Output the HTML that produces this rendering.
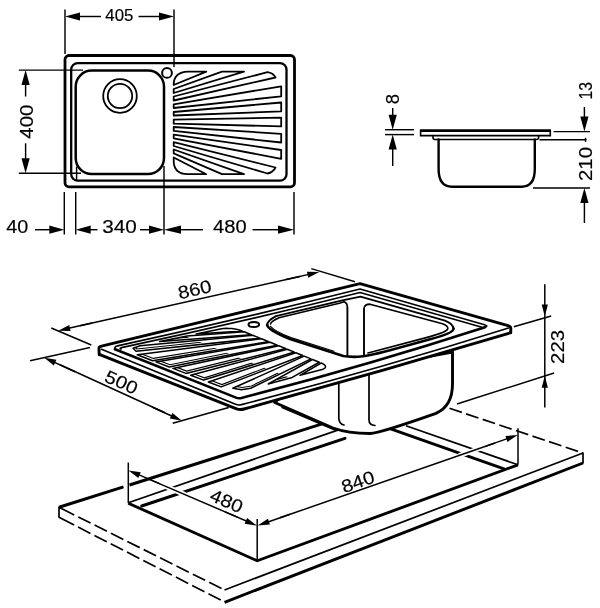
<!DOCTYPE html>
<html><head><meta charset="utf-8"><title>Sink</title>
<style>html,body{margin:0;padding:0;background:#fff}svg{display:block;filter:grayscale(1)}text{font-family:"Liberation Sans",sans-serif;fill:#000;stroke:#000;stroke-width:0.18px}</style>
</head><body>
<svg width="600" height="608" viewBox="0 0 600 608">
<rect width="600" height="608" fill="#fff"/>
<rect x="65" y="55.5" width="229.5" height="131.3" rx="4" fill="none" stroke="#000" stroke-width="2.8"/>
<rect x="71.2" y="63.1" width="215.3" height="117.6" rx="6.5" fill="none" stroke="#000" stroke-width="2.3"/>
<rect x="75.7" y="70.6" width="88.3" height="103.4" rx="16" fill="none" stroke="#000" stroke-width="2.5"/>
<circle cx="120" cy="96" r="16.8" fill="none" stroke="#000" stroke-width="1.8"/>
<circle cx="120" cy="96" r="12.2" fill="none" stroke="#000" stroke-width="1.8"/>
<circle cx="167" cy="72.9" r="4.9" fill="#fff" stroke="#000" stroke-width="2"/>
<path d="M173.7,85 Q173.7,72 188,71.7 L206.3,71.7 Z" fill="none" stroke="#000" stroke-width="1.8" stroke-linejoin="round" stroke-linecap="round"/>
<path d="M173.7,89 L222,71.7 L244,71.7 L173.7,93 Z" fill="none" stroke="#000" stroke-width="1.8" stroke-linejoin="round" stroke-linecap="round"/>
<path d="M173.7,96.5 L267.5,72.2 Q273,73 275.5,77.5 L173.7,100.5 Z" fill="none" stroke="#000" stroke-width="1.8" stroke-linejoin="round" stroke-linecap="round"/>
<path d="M173.7,104.3 L281.2,86.3 L281.2,96.3 L173.7,108 Z" fill="none" stroke="#000" stroke-width="1.8" stroke-linejoin="round" stroke-linecap="round"/>
<path d="M173.7,112 L281.2,102.5 L281.2,111.3 L173.7,115.5 Z" fill="none" stroke="#000" stroke-width="1.8" stroke-linejoin="round" stroke-linecap="round"/>
<path d="M173.7,119.7 L281.2,117.7 L281.2,126.4 L173.7,123.7 Z" fill="none" stroke="#000" stroke-width="1.8" stroke-linejoin="round" stroke-linecap="round"/>
<path d="M173.7,127 L281.2,133.8 L281.2,142.5 L173.7,130.8 Z" fill="none" stroke="#000" stroke-width="1.8" stroke-linejoin="round" stroke-linecap="round"/>
<path d="M173.7,134.7 L281.2,150 L281.2,158.8 L173.7,138.3 Z" fill="none" stroke="#000" stroke-width="1.8" stroke-linejoin="round" stroke-linecap="round"/>
<path d="M173.7,142.2 L275.5,167.5 Q273,172.5 267.5,173.5 L173.7,146 Z" fill="none" stroke="#000" stroke-width="1.8" stroke-linejoin="round" stroke-linecap="round"/>
<path d="M173.7,149.5 L244,174.2 L222,174.2 L173.7,153.3 Z" fill="none" stroke="#000" stroke-width="1.8" stroke-linejoin="round" stroke-linecap="round"/>
<path d="M173.7,157.5 L206.3,174.2 L188,174.2 Q173.7,174 173.7,161 Z" fill="none" stroke="#000" stroke-width="1.8" stroke-linejoin="round" stroke-linecap="round"/>
<line x1="65" y1="9.5" x2="65" y2="54" stroke="#000" stroke-width="1.45" stroke-linecap="butt"/>
<line x1="174" y1="9.5" x2="174" y2="67" stroke="#000" stroke-width="1.45" stroke-linecap="butt"/>
<line x1="101" y1="16.5" x2="77.0" y2="16.5" stroke="#000" stroke-width="1.45" stroke-linecap="butt"/>
<polygon points="65.00,16.50 80.00,12.40 80.00,20.60" fill="#000"/>
<line x1="138.5" y1="16.5" x2="162.0" y2="16.5" stroke="#000" stroke-width="1.45" stroke-linecap="butt"/>
<polygon points="174.00,16.50 159.00,20.60 159.00,12.40" fill="#000"/>
<text x="0" y="0" transform="translate(119.3,15.8) rotate(0)" opacity="0.999" font-size="17" text-anchor="middle" dominant-baseline="central" textLength="28" lengthAdjust="spacingAndGlyphs">405</text>
<line x1="18.8" y1="70.1" x2="83" y2="70.1" stroke="#000" stroke-width="1.45" stroke-linecap="butt"/>
<line x1="18.8" y1="173.3" x2="81" y2="173.3" stroke="#000" stroke-width="1.45" stroke-linecap="butt"/>
<line x1="25.6" y1="96.5" x2="25.6" y2="82.1" stroke="#000" stroke-width="1.45" stroke-linecap="butt"/>
<polygon points="25.60,70.10 29.70,85.10 21.50,85.10" fill="#000"/>
<line x1="25.6" y1="143.3" x2="25.6" y2="161.3" stroke="#000" stroke-width="1.45" stroke-linecap="butt"/>
<polygon points="25.60,173.30 21.50,158.30 29.70,158.30" fill="#000"/>
<text x="0" y="0" transform="translate(26.2,121.7) rotate(-90)" opacity="0.999" font-size="19" text-anchor="middle" dominant-baseline="central" textLength="34" lengthAdjust="spacingAndGlyphs">400</text>
<line x1="64.3" y1="192" x2="64.3" y2="234.5" stroke="#000" stroke-width="1.45" stroke-linecap="butt"/>
<line x1="75.7" y1="192" x2="75.7" y2="234.5" stroke="#000" stroke-width="1.45" stroke-linecap="butt"/>
<line x1="76.6" y1="166.5" x2="76.6" y2="180.5" stroke="#000" stroke-width="1.45" stroke-linecap="butt"/>
<line x1="164" y1="166" x2="164" y2="234.5" stroke="#000" stroke-width="1.45" stroke-linecap="butt"/>
<line x1="294" y1="192" x2="294" y2="234.5" stroke="#000" stroke-width="1.45" stroke-linecap="butt"/>
<line x1="35" y1="229.7" x2="52.3" y2="229.7" stroke="#000" stroke-width="1.45" stroke-linecap="butt"/>
<polygon points="64.30,229.70 49.30,233.80 49.30,225.60" fill="#000"/>
<line x1="97.5" y1="229.7" x2="87.7" y2="229.7" stroke="#000" stroke-width="1.45" stroke-linecap="butt"/>
<polygon points="75.70,229.70 90.70,225.60 90.70,233.80" fill="#000"/>
<line x1="140" y1="229.7" x2="152.0" y2="229.7" stroke="#000" stroke-width="1.45" stroke-linecap="butt"/>
<polygon points="164.00,229.70 149.00,233.80 149.00,225.60" fill="#000"/>
<line x1="203" y1="229.7" x2="177.6" y2="229.7" stroke="#000" stroke-width="1.45" stroke-linecap="butt"/>
<polygon points="164.00,229.70 181.00,225.60 181.00,233.80" fill="#000"/>
<line x1="252.5" y1="229.7" x2="281.2" y2="229.7" stroke="#000" stroke-width="1.45" stroke-linecap="butt"/>
<polygon points="294.00,229.70 278.00,233.80 278.00,225.60" fill="#000"/>
<text x="0" y="0" transform="translate(17.3,226.8) rotate(0)" opacity="0.999" font-size="17.5" text-anchor="middle" dominant-baseline="central" textLength="22" lengthAdjust="spacingAndGlyphs">40</text>
<text x="0" y="0" transform="translate(119.6,226.8) rotate(0)" opacity="0.999" font-size="17.5" text-anchor="middle" dominant-baseline="central" textLength="34.5" lengthAdjust="spacingAndGlyphs">340</text>
<text x="0" y="0" transform="translate(229.8,226.8) rotate(0)" opacity="0.999" font-size="17.5" text-anchor="middle" dominant-baseline="central" textLength="33.5" lengthAdjust="spacingAndGlyphs">480</text>
<path d="M420.6,130.6 L550.3,130.6" fill="none" stroke="#000" stroke-width="2.6" stroke-linejoin="round" stroke-linecap="butt"/>
<path d="M420.6,129.6 L420.6,135.6 L550.3,135.6 L550.3,129.6" fill="none" stroke="#000" stroke-width="1.6" stroke-linejoin="miter" stroke-linecap="butt"/>
<path d="M433,135.6 L433,137.5 Q433,139.5 435,139.5 L536.5,139.5 Q538.6,139.5 538.6,137.5 L538.6,135.6" fill="none" stroke="#000" stroke-width="1.6" stroke-linejoin="round" stroke-linecap="round"/>
<path d="M438.6,139.5 L438.6,169 Q438.6,186.7 452,186.7 L521.5,186.7 Q534.8,186.7 534.8,169 L534.8,139.5" fill="none" stroke="#000" stroke-width="2.4" stroke-linejoin="round" stroke-linecap="round"/>
<line x1="385" y1="129.7" x2="414" y2="129.7" stroke="#000" stroke-width="1.45" stroke-linecap="butt"/>
<line x1="385" y1="134.6" x2="414" y2="134.6" stroke="#000" stroke-width="1.45" stroke-linecap="butt"/>
<line x1="392.7" y1="108" x2="392.7" y2="117.69999999999999" stroke="#000" stroke-width="1.45" stroke-linecap="butt"/>
<polygon points="392.70,129.70 388.60,114.70 396.80,114.70" fill="#000"/>
<line x1="392.7" y1="166" x2="392.7" y2="146.6" stroke="#000" stroke-width="1.45" stroke-linecap="butt"/>
<polygon points="392.70,134.60 396.80,149.60 388.60,149.60" fill="#000"/>
<text x="0" y="0" transform="translate(392.3,99) rotate(-90)" opacity="0.999" font-size="18.5" text-anchor="middle" dominant-baseline="central">8</text>
<line x1="553.5" y1="131.6" x2="590" y2="131.6" stroke="#000" stroke-width="1.45" stroke-linecap="butt"/>
<line x1="539.5" y1="139.8" x2="586.5" y2="139.8" stroke="#000" stroke-width="1.45" stroke-linecap="butt"/>
<line x1="533" y1="188" x2="590" y2="188" stroke="#000" stroke-width="1.45" stroke-linecap="butt"/>
<line x1="585.5" y1="137.8" x2="585.5" y2="141.8" stroke="#000" stroke-width="1.45" stroke-linecap="butt"/>
<line x1="584.4" y1="107" x2="584.4" y2="119.6" stroke="#000" stroke-width="1.45" stroke-linecap="butt"/>
<polygon points="584.40,131.60 580.30,116.60 588.50,116.60" fill="#000"/>
<line x1="584.4" y1="223" x2="584.4" y2="200.0" stroke="#000" stroke-width="1.45" stroke-linecap="butt"/>
<polygon points="584.40,188.00 588.50,203.00 580.30,203.00" fill="#000"/>
<text x="0" y="0" transform="translate(585.8,90.8) rotate(-90)" opacity="0.999" font-size="18.5" text-anchor="middle" dominant-baseline="central" textLength="17.5" lengthAdjust="spacingAndGlyphs">13</text>
<text x="0" y="0" transform="translate(585.8,164) rotate(-90)" opacity="0.999" font-size="18.5" text-anchor="middle" dominant-baseline="central" textLength="34" lengthAdjust="spacingAndGlyphs">210</text>
<path d="M59,507.3 L123.5,486.9 M129.5,485.0 L330,421.4" fill="none" stroke="#000" stroke-width="3.0" stroke-linejoin="round" stroke-linecap="butt"/>
<path d="M449.5,408.3 L583,453" fill="none" stroke="#000" stroke-width="1.7" stroke-linejoin="round" stroke-linecap="butt" stroke-dasharray="13 4.5"/>
<path d="M59,507.3 L224.5,590" fill="none" stroke="#000" stroke-width="1.7" stroke-linejoin="round" stroke-linecap="butt" stroke-dasharray="17 4.5 13.8 4.5 13.8 4.5 13.8 4.5 13.8 4.5 13.8 4.5 13.8 4.5 13.8 4.5 13.8 4.5 13.8 4.5 13.8 4.5 13.8 4.5 13.8 4.5 13.8 4.5 13.8 4.5"/>
<path d="M59,517.3 L224.5,602" fill="none" stroke="#000" stroke-width="1.7" stroke-linejoin="round" stroke-linecap="butt" stroke-dasharray="17 4.5 13.8 4.5 13.8 4.5 13.8 4.5 13.8 4.5 13.8 4.5 13.8 4.5 13.8 4.5 13.8 4.5 13.8 4.5 13.8 4.5 13.8 4.5 13.8 4.5 13.8 4.5 13.8 4.5"/>
<line x1="59" y1="506.8" x2="59" y2="517.8" stroke="#000" stroke-width="1.7" stroke-linecap="butt"/>
<path d="M224.5,590 L583,453" fill="none" stroke="#000" stroke-width="1.7" stroke-linejoin="round" stroke-linecap="butt"/>
<path d="M224.5,602.3 L583,463" fill="none" stroke="#000" stroke-width="2.9" stroke-linejoin="round" stroke-linecap="butt"/>
<line x1="583" y1="452.5" x2="583" y2="463.5" stroke="#000" stroke-width="1.7" stroke-linecap="butt"/>
<path d="M128.3,502.8 L345,427.6" fill="none" stroke="#000" stroke-width="1.7" stroke-linejoin="round" stroke-linecap="butt"/>
<path d="M141.7,506 L345,438.3" fill="none" stroke="#000" stroke-width="2.9" stroke-linejoin="round" stroke-linecap="round"/>
<path d="M406,425.7 L518,464.8" fill="none" stroke="#000" stroke-width="1.7" stroke-linejoin="round" stroke-linecap="butt"/>
<path d="M385,426.9 L504.7,469.1" fill="none" stroke="#000" stroke-width="2.9" stroke-linejoin="round" stroke-linecap="butt"/>
<path d="M128.3,503.2 L257.2,560.8 L518,464.8" fill="none" stroke="#000" stroke-width="2.9" stroke-linejoin="miter" stroke-linecap="butt"/>
<line x1="166.5" y1="486.7" x2="185" y2="494.6" stroke="#fff" stroke-width="5"/>
<line x1="481" y1="448" x2="459" y2="455.6" stroke="#fff" stroke-width="5"/>
<line x1="128.3" y1="462.5" x2="128.3" y2="503.2" stroke="#000" stroke-width="1.5" stroke-linecap="butt"/>
<line x1="257.2" y1="519" x2="257.2" y2="560.8" stroke="#000" stroke-width="1.5" stroke-linecap="butt"/>
<line x1="518" y1="428.3" x2="518" y2="464.8" stroke="#000" stroke-width="1.5" stroke-linecap="butt"/>
<line x1="160" y1="483.9" x2="137.32379228817337" y2="474.18162526636" stroke="#000" stroke-width="1.5" stroke-linecap="butt"/>
<polygon points="128.50,470.40 140.75,472.28 138.31,477.98" fill="#000"/>
<line x1="225" y1="511.9" x2="248.07907076891595" y2="521.811701239315" stroke="#000" stroke-width="1.5" stroke-linecap="butt"/>
<polygon points="256.90,525.60 244.65,523.71 247.10,518.02" fill="#000"/>
<line x1="290" y1="514.3" x2="266.66452406367335" y2="522.4386073481633" stroke="#000" stroke-width="1.5" stroke-linecap="butt"/>
<polygon points="257.60,525.60 267.91,518.72 269.95,524.58" fill="#000"/>
<line x1="486" y1="446.1" x2="508.7362968497574" y2="438.1637454392356" stroke="#000" stroke-width="1.5" stroke-linecap="butt"/>
<polygon points="517.80,435.00 507.49,441.88 505.45,436.03" fill="#000"/>
<line x1="150" y1="479.6" x2="238" y2="517.4" stroke="#000" stroke-width="1.5" stroke-linecap="butt"/>
<line x1="280" y1="517.8" x2="495" y2="443" stroke="#000" stroke-width="1.5" stroke-linecap="butt"/>
<text x="0" y="0" transform="translate(226.5,501.3) rotate(23.2)" opacity="0.999" font-size="18" text-anchor="middle" dominant-baseline="central" textLength="34" lengthAdjust="spacingAndGlyphs">480</text>
<text x="0" y="0" transform="translate(358,482) rotate(-19.2)" opacity="0.999" font-size="18" text-anchor="middle" dominant-baseline="central" textLength="34" lengthAdjust="spacingAndGlyphs">840</text>
<path d="M274.7,402.5 L333,428 Q348,433.5 370,433.5 Q380,433 436,413.3 Q452.5,406 452.5,384 L452.5,352 L300,380 Z" fill="#fff" stroke="#000" stroke-width="2.9" stroke-linejoin="round" stroke-linecap="round"/>
<path d="M338.8,382.5 L338.8,418 Q339,424 344,425" fill="none" stroke="#000" stroke-width="1.7" stroke-linejoin="round" stroke-linecap="round"/>
<path d="M369,374 L369,420 Q369,425 375,425.5" fill="none" stroke="#000" stroke-width="1.7" stroke-linejoin="round" stroke-linecap="round"/>
<path d="M282,407.5 L335,430" fill="none" stroke="#000" stroke-width="1.5" stroke-linejoin="round" stroke-linecap="round"/>
<line x1="544.8" y1="284.2" x2="544.8" y2="407.5" stroke="#000" stroke-width="1.5" stroke-linecap="butt"/>
<polygon points="544.80,316.50 541.70,304.50 547.90,304.50" fill="#000"/>
<polygon points="544.80,375.70 547.90,387.70 541.70,387.70" fill="#000"/>
<line x1="513.8" y1="326.8" x2="551.2" y2="316" stroke="#000" stroke-width="1.5" stroke-linecap="butt"/>
<line x1="457" y1="404" x2="554.1" y2="373" stroke="#000" stroke-width="1.5" stroke-linecap="butt"/>
<text x="0" y="0" transform="translate(558,346.9) rotate(-90)" opacity="0.999" font-size="18" text-anchor="middle" dominant-baseline="central" textLength="34" lengthAdjust="spacingAndGlyphs">223</text>
<path d="M98.8,346.8 L360,283.7 L510.7,326.3 L510.7,332.7 L240,410 L99.5,354.7 Z" fill="#fff" stroke="#000" stroke-width="0.1" stroke-linejoin="round" stroke-linecap="round"/>
<path d="M99.8,354.7 L236,408.6 Q240,410.3 244,409 Q377.3,372.6 510.7,332.7" fill="none" stroke="#000" stroke-width="2.9" stroke-linejoin="round" stroke-linecap="round"/>
<path d="M101.5,349.3 L235.5,404.3 Q238.5,405.5 241.5,404.6 Q375,370 508.5,328" fill="none" stroke="#000" stroke-width="1.7" stroke-linejoin="round" stroke-linecap="round"/>
<path d="M99.2,354.7 L99,349 Q98.6,346.4 101.5,346.2 L360,283.7 L508,325.6 Q511,326.4 510.8,329 L510.7,332.7" fill="none" stroke="#000" stroke-width="2.9" stroke-linejoin="round" stroke-linecap="round"/>
<path d="M115,349.3 Q114,347 117.5,345.8 Q238.7,319.4 360,289 L484.5,324.7 Q489,326 485,327.2" fill="none" stroke="#000" stroke-width="1.7" stroke-linejoin="round" stroke-linecap="round"/>
<path d="M121,349 Q119,348.6 121.5,347.6 Q240.7,322.3 360,292.5 L482,327.2" fill="none" stroke="#000" stroke-width="1.7" stroke-linejoin="round" stroke-linecap="round"/>
<path d="M115,349.3 L236,397.6 Q238.7,398.7 241.5,397.9 Q363.2,366.6 485,327.2" fill="none" stroke="#000" stroke-width="2.6" stroke-linejoin="round" stroke-linecap="round"/>
<ellipse cx="253.8" cy="324.5" rx="5.3" ry="2.5" fill="#fff" stroke="#000" stroke-width="2"/>
<path d="M267,324 Q267.5,321 276,316.2 L334,302.4 Q352,298 360.5,296.6 L445,320.7 Q454,324 453.5,329 Q453,333.5 430,339.3 Q400,347.5 390,350.2 Q365,357 354,356.8 Q347,356.8 343.3,356 L290,339 Q267,329 267,324 Z" fill="#fff" stroke="none"/>
<path d="M267.2,325 Q267,321 276,316.2 L334,302.4 Q352,298 360.5,296.6 L445,320.7 Q452.5,323.5 453.5,328.5" fill="none" stroke="#000" stroke-width="1.9" stroke-linejoin="round" stroke-linecap="round"/>
<path d="M453.5,328.5 Q454,333 430,339.3 Q400,347.5 390,350.2 Q365,357 354,356.8 Q347,356.8 343.3,356 L290,339 Q268,330 267.2,325" fill="none" stroke="#000" stroke-width="2.6999999999999997" stroke-linejoin="round" stroke-linecap="round"/>
<path d="M270.5,324 Q271,321.5 279,317.8 L334,304.6 Q340,303.5 344,301.8" fill="none" stroke="#000" stroke-width="1.5" stroke-linejoin="round" stroke-linecap="round"/>
<path d="M270.5,326.3 Q275,331.5 291,337.6 L334,351.2" fill="none" stroke="#000" stroke-width="1.2" stroke-linejoin="round" stroke-linecap="round"/>
<path d="M364,308.5 Q364.5,304.3 370,304.2 L442.5,323.8 Q448.5,326 447.7,329 Q447,331.8 430,336.6 Q395,346 368,353" fill="none" stroke="#000" stroke-width="1.7" stroke-linejoin="round" stroke-linecap="round"/>
<line x1="347.4" y1="307.5" x2="347.4" y2="356.3" stroke="#000" stroke-width="1.9" stroke-linecap="butt"/>
<line x1="364" y1="308.5" x2="364" y2="355" stroke="#000" stroke-width="1.9" stroke-linecap="butt"/>
<path d="M344,301.8 Q347.4,303 347.4,307.5" fill="none" stroke="#000" stroke-width="1.7" stroke-linejoin="round" stroke-linecap="round"/>
<line x1="92" y1="323.1" x2="67.56615028732719" y2="328.5940017105418" stroke="#000" stroke-width="1.5" stroke-linecap="butt"/>
<polygon points="58.20,330.70 69.23,325.04 70.59,331.09" fill="#000"/>
<line x1="286" y1="279.6" x2="309.94066108773484" y2="274.1360653373338" stroke="#000" stroke-width="1.5" stroke-linecap="butt"/>
<polygon points="319.30,272.00 308.29,277.69 306.91,271.65" fill="#000"/>
<line x1="80" y1="325.7" x2="300" y2="276.4" stroke="#000" stroke-width="1.5" stroke-linecap="butt"/>
<line x1="51.3" y1="328" x2="91.3" y2="345" stroke="#000" stroke-width="1.5" stroke-linecap="butt"/>
<line x1="311.3" y1="268.6" x2="355" y2="281.8" stroke="#000" stroke-width="1.5" stroke-linecap="butt"/>
<text x="0" y="0" transform="translate(194.7,289.7) rotate(-12.7)" opacity="0.999" font-size="18" text-anchor="middle" dominant-baseline="central" textLength="34" lengthAdjust="spacingAndGlyphs">860</text>
<line x1="75" y1="371.7" x2="52.93951818364101" y2="361.67250826529136" stroke="#000" stroke-width="1.5" stroke-linecap="butt"/>
<polygon points="44.20,357.70 56.41,359.84 53.84,365.49" fill="#000"/>
<line x1="152" y1="407" x2="173.26747334606327" y2="416.7121461613689" stroke="#000" stroke-width="1.5" stroke-linecap="butt"/>
<polygon points="182.00,420.70 169.80,418.54 172.37,412.90" fill="#000"/>
<line x1="60" y1="364.8" x2="165" y2="412.8" stroke="#000" stroke-width="1.5" stroke-linecap="butt"/>
<line x1="30" y1="360.7" x2="90" y2="347.6" stroke="#000" stroke-width="1.5" stroke-linecap="butt"/>
<line x1="172.7" y1="423.3" x2="228.7" y2="407.5" stroke="#000" stroke-width="1.5" stroke-linecap="butt"/>
<text x="0" y="0" transform="translate(121.3,382.5) rotate(24.5)" opacity="0.999" font-size="18" text-anchor="middle" dominant-baseline="central" textLength="34" lengthAdjust="spacingAndGlyphs">500</text>
<clipPath id="ghalf"><path d="M172.7,331.3 L99.7,345.8 L240.8,399.4 L302.1,382.5 Z"/></clipPath>
<path d="M242.2,331.0 L242.2,331.0 L240.0,330.2 L237.4,329.5 L234.7,329.0 L231.8,328.6 L229.0,328.4 L226.2,328.3 L223.7,328.5 L221.5,328.8 L196.2,334.0 Z" fill="#fff" stroke="#000" stroke-width="1.55" stroke-linejoin="round" stroke-linecap="round"/>
<clipPath id="gc0"><path d="M242.2,331.0 L242.2,331.0 L240.0,330.2 L237.4,329.5 L234.7,329.0 L231.8,328.6 L229.0,328.4 L226.2,328.3 L223.7,328.5 L221.5,328.8 L196.2,334.0 Z"/></clipPath>
<g clip-path="url(#ghalf)"><path d="M242.9,328.7 L242.9,328.7 L240.7,327.9 L238.1,327.2 L235.4,326.7 L232.5,326.3 L229.7,326.1 L226.9,326.0 L224.4,326.2 L222.2,326.5 L196.9,331.7 Z" fill="none" stroke="#000" stroke-width="1.1" clip-path="url(#gc0)"/></g>
<path d="M244.2,331.8 L187.2,335.9 L159.6,341.6 L251.3,334.7 Z" fill="#fff" stroke="#000" stroke-width="1.55" stroke-linejoin="round" stroke-linecap="round"/>
<clipPath id="gc1"><path d="M244.2,331.8 L187.2,335.9 L159.6,341.6 L251.3,334.7 Z"/></clipPath>
<g clip-path="url(#ghalf)"><path d="M244.9,329.5 L187.9,333.6 L160.3,339.3 L252.0,332.4 Z" fill="none" stroke="#000" stroke-width="1.1" clip-path="url(#gc1)"/></g>
<path d="M252.9,335.3 L140.2,345.8 L133.1,348.2 L136.1,351.3 L260.0,338.2 Z" fill="#fff" stroke="#000" stroke-width="1.55" stroke-linejoin="round" stroke-linecap="round"/>
<clipPath id="gc2"><path d="M252.9,335.3 L140.2,345.8 L133.1,348.2 L136.1,351.3 L260.0,338.2 Z"/></clipPath>
<g clip-path="url(#ghalf)"><path d="M253.6,333.0 L140.9,343.5 L133.8,345.9 L136.8,349.0 L260.7,335.9 Z" fill="none" stroke="#000" stroke-width="1.1" clip-path="url(#gc2)"/></g>
<path d="M261.6,338.8 L137.3,354.8 L152.6,360.7 L268.7,341.7 Z" fill="#fff" stroke="#000" stroke-width="1.55" stroke-linejoin="round" stroke-linecap="round"/>
<clipPath id="gc3"><path d="M261.6,338.8 L137.3,354.8 L152.6,360.7 L268.7,341.7 Z"/></clipPath>
<g clip-path="url(#ghalf)"><path d="M262.3,336.5 L138.0,352.5 L153.3,358.4 L269.4,339.4 Z" fill="none" stroke="#000" stroke-width="1.1" clip-path="url(#gc3)"/></g>
<path d="M270.2,342.3 L155.9,361.9 L169.2,367.0 L277.3,345.2 Z" fill="#fff" stroke="#000" stroke-width="1.55" stroke-linejoin="round" stroke-linecap="round"/>
<clipPath id="gc4"><path d="M270.2,342.3 L155.9,361.9 L169.2,367.0 L277.3,345.2 Z"/></clipPath>
<g clip-path="url(#ghalf)"><path d="M270.9,340.0 L156.6,359.6 L169.9,364.7 L278.0,342.9 Z" fill="none" stroke="#000" stroke-width="1.1" clip-path="url(#gc4)"/></g>
<path d="M278.8,345.8 L172.9,368.4 L185.9,373.4 L285.8,348.6 Z" fill="#fff" stroke="#000" stroke-width="1.55" stroke-linejoin="round" stroke-linecap="round"/>
<clipPath id="gc5"><path d="M278.8,345.8 L172.9,368.4 L185.9,373.4 L285.8,348.6 Z"/></clipPath>
<g clip-path="url(#ghalf)"><path d="M279.5,343.5 L173.6,366.1 L186.6,371.1 L286.5,346.3 Z" fill="none" stroke="#000" stroke-width="1.1" clip-path="url(#gc5)"/></g>
<path d="M287.3,349.3 L190.7,375.2 L203.6,380.1 L294.3,352.1 Z" fill="#fff" stroke="#000" stroke-width="1.55" stroke-linejoin="round" stroke-linecap="round"/>
<clipPath id="gc6"><path d="M287.3,349.3 L190.7,375.2 L203.6,380.1 L294.3,352.1 Z"/></clipPath>
<g clip-path="url(#ghalf)"><path d="M288.0,347.0 L191.4,372.9 L204.3,377.8 L295.0,349.8 Z" fill="none" stroke="#000" stroke-width="1.1" clip-path="url(#gc6)"/></g>
<path d="M295.8,352.7 L208.4,382.0 L221.2,386.9 L302.7,355.5 Z" fill="#fff" stroke="#000" stroke-width="1.55" stroke-linejoin="round" stroke-linecap="round"/>
<clipPath id="gc7"><path d="M295.8,352.7 L208.4,382.0 L221.2,386.9 L302.7,355.5 Z"/></clipPath>
<g clip-path="url(#ghalf)"><path d="M296.5,350.4 L209.1,379.7 L221.9,384.6 L303.4,353.2 Z" fill="none" stroke="#000" stroke-width="1.1" clip-path="url(#gc7)"/></g>
<path d="M304.2,356.1 L232.8,388.3 L241.5,389.8 L250.7,388.3 L311.0,358.9 Z" fill="#fff" stroke="#000" stroke-width="1.55" stroke-linejoin="round" stroke-linecap="round"/>
<clipPath id="gc8"><path d="M304.2,356.1 L232.8,388.3 L241.5,389.8 L250.7,388.3 L311.0,358.9 Z"/></clipPath>
<g clip-path="url(#ghalf)"><path d="M304.9,353.8 L233.5,386.0 L242.2,387.5 L251.4,386.0 L311.7,356.6 Z" fill="none" stroke="#000" stroke-width="1.1" clip-path="url(#gc8)"/></g>
<path d="M312.5,359.5 L268.2,383.9 L292.2,377.4 L319.3,362.3 Z" fill="#fff" stroke="#000" stroke-width="1.55" stroke-linejoin="round" stroke-linecap="round"/>
<clipPath id="gc9"><path d="M312.5,359.5 L268.2,383.9 L292.2,377.4 L319.3,362.3 Z"/></clipPath>
<g clip-path="url(#ghalf)"><path d="M313.2,357.2 L268.9,381.6 L292.9,375.1 L320.0,360.0 Z" fill="none" stroke="#000" stroke-width="1.1" clip-path="url(#gc9)"/></g>
<path d="M321.2,363.0 L300.0,375.3 L322.1,369.4 L323.6,368.9 L324.8,368.2 L325.4,367.4 L325.5,366.5 L325.1,365.6 L324.3,364.7 L322.9,363.8 L321.2,363.0 Z" fill="#fff" stroke="#000" stroke-width="1.55" stroke-linejoin="round" stroke-linecap="round"/>
<clipPath id="gc10"><path d="M321.2,363.0 L300.0,375.3 L322.1,369.4 L323.6,368.9 L324.8,368.2 L325.4,367.4 L325.5,366.5 L325.1,365.6 L324.3,364.7 L322.9,363.8 L321.2,363.0 Z"/></clipPath>
<g clip-path="url(#ghalf)"><path d="M321.9,360.7 L300.7,373.0 L322.8,367.1 L324.3,366.6 L325.5,365.9 L326.1,365.1 L326.2,364.2 L325.8,363.3 L325.0,362.4 L323.6,361.5 L321.9,360.7 Z" fill="none" stroke="#000" stroke-width="1.1" clip-path="url(#gc10)"/></g>

</svg>
</body></html>
